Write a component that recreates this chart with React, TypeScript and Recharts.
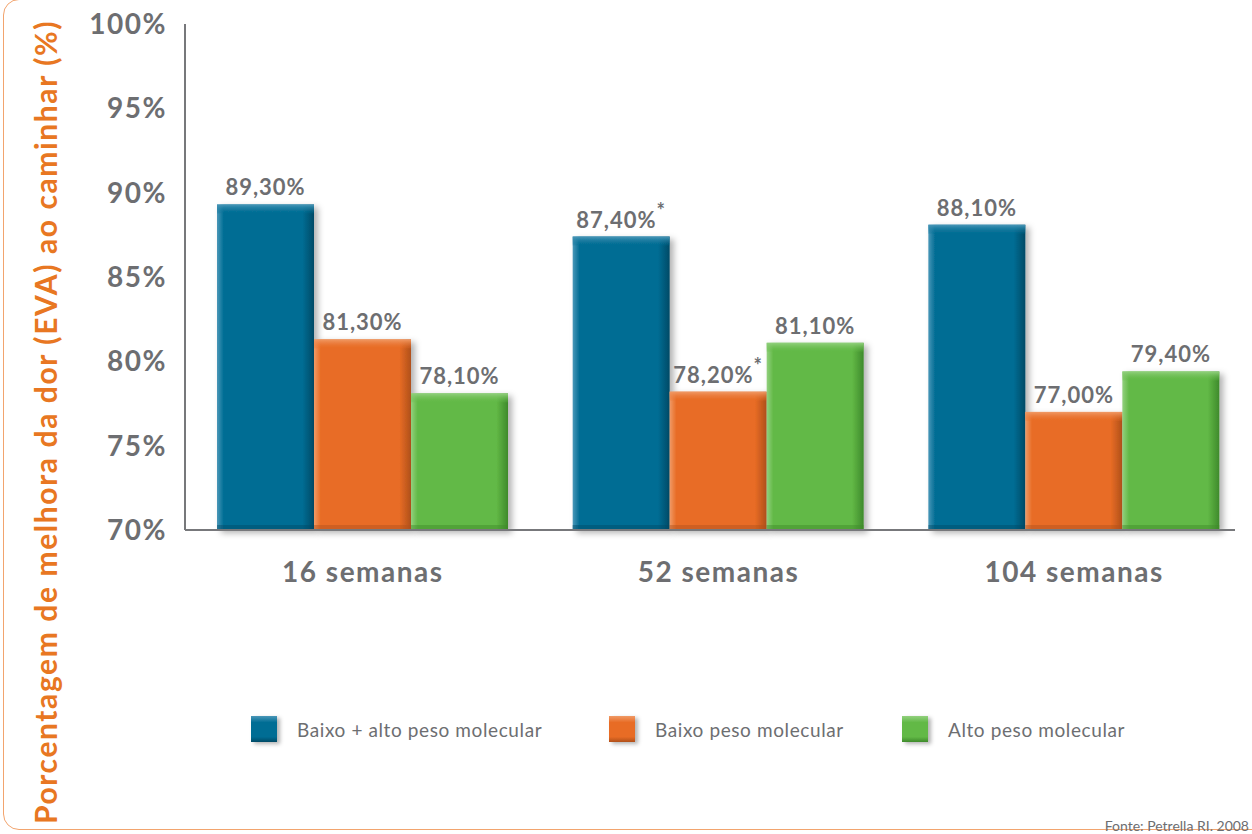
import React from 'react';
import { BarChart, Bar, XAxis, YAxis, LabelList } from 'recharts';

// values
const categories = ['16 semanas', '52 semanas', '104 semanas'];
const baixoAlto = [89.3, 87.4, 88.1];
const baixo = [81.3, 78.2, 77.0];
const alto = [78.1, 81.1, 79.4];
// asterisk marks next to some labels
const baixoAltoStar = [false, true, false];
const baixoStar = [false, true, false];
const altoStar = [false, false, false];
const yTicks = [70, 75, 80, 85, 90, 95, 100];

const seriesNames = ['Baixo + alto peso molecular', 'Baixo peso molecular', 'Alto peso molecular'];

const palette: Record<string, { base: string; light: string; dark: string }> = {
  blue: { base: '#006d94', light: '#4a97b8', dark: '#004a66' },
  orange: { base: '#e86c25', light: '#f09a66', dark: '#b0501a' },
  green: { base: '#62b946', light: '#92d07e', dark: '#3e8a2b' },
};

const data = categories.map((c, i) => ({
  name: c,
  baixoAlto: baixoAlto[i],
  baixo: baixo[i],
  alto: alto[i],
  baixoAltoStar: baixoAltoStar[i],
  baixoStar: baixoStar[i],
  altoStar: altoStar[i],
}));

const FONT = 'Lato, "Open Sans", sans-serif';
const GRAY = '#6d6e71';
const AXIS = '#77787b';

const makeShape = (key: string) => (props: any) => {
  const { x, y, width, height } = props;
  if (!width || !height) return null;
  const top = Math.min(9, height);
  return (
    <g filter="url(#barShadow)">
      <rect x={x} y={y} width={width} height={height} fill={`url(#h-${key})`} />
      <rect x={x} y={y} width={width} height={top} fill={`url(#v-${key})`} />
      <rect x={x} y={y + height - 5} width={width} height={5} fill={palette[key].dark} opacity={0.45} />
    </g>
  );
};

const makeLabel = (starKey: string) => (props: any) => {
  const { x, y, width, value, index } = props;
  const star = (data as any)[index][starKey];
  const txt = value.toFixed(2).replace('.', ',') + '%';
  return (
    <text
      x={x + width / 2}
      y={y - 9}
      textAnchor="middle"
      fill={GRAY}
      fontFamily={FONT}
      fontWeight={700}
      fontSize={22}
      letterSpacing={1}
    >
      {txt}
      {star && (
        <tspan dy={-10} fontSize={20}>
          *
        </tspan>
      )}
    </text>
  );
};

const YTitle = (props: any) => {
  const { viewBox } = props;
  const cx = viewBox.x + 45;
  const cy = 422;
  return (
    <text
      x={cx}
      y={cy}
      transform={`rotate(-90 ${cx} ${cy})`}
      textAnchor="middle"
      dominantBaseline="central"
      fill="#e87722"
      fontFamily={FONT}
      fontWeight={700}
      fontSize={30}
      letterSpacing={1.6}
    >
      Porcentagem de melhora da dor (EVA) ao caminhar (%)
    </text>
  );
};

const legendKeys = ['blue', 'orange', 'green'];
const legendLeft = [251, 609, 902];

const App: React.FC = () => {
  return (
    <div style={{ position: 'absolute', left: 0, top: 0, width: 1252, height: 834, background: '#fff', overflow: 'hidden' }}>
      <div
        style={{
          position: 'absolute',
          left: 3,
          top: -1,
          width: 1320,
          height: 831,
          border: '1.5px solid #f2a46e',
          borderRadius: 16,
          boxSizing: 'border-box',
        }}
      />
      <BarChart
        width={1252}
        height={834}
        data={data}
        margin={{ top: 24, right: 17, bottom: 274, left: 0 }}
        barCategoryGap={32}
        barGap={0}
        style={{ position: 'absolute', left: 0, top: 0 }}
      >
        <defs>
          <filter id="barShadow" x="-10%" y="-10%" width="130%" height="130%">
            <feDropShadow dx={4} dy={3} stdDeviation={3} floodColor="#000" floodOpacity={0.3} />
          </filter>
          {Object.keys(palette).map((k) => (
            <React.Fragment key={k}>
              <linearGradient id={`h-${k}`} x1="0" y1="0" x2="1" y2="0">
                <stop offset="0" stopColor={palette[k].light} />
                <stop offset="0.07" stopColor={palette[k].base} />
                <stop offset="0.88" stopColor={palette[k].base} />
                <stop offset="1" stopColor={palette[k].dark} />
              </linearGradient>
              <linearGradient id={`v-${k}`} x1="0" y1="0" x2="0" y2="1">
                <stop offset="0" stopColor={palette[k].light} stopOpacity={1} />
                <stop offset="1" stopColor={palette[k].base} stopOpacity={0.2} />
              </linearGradient>
            </React.Fragment>
          ))}
        </defs>
        <XAxis
          dataKey="name"
          axisLine={{ stroke: AXIS, strokeWidth: 2 }}
          tickLine={false}
          tickSize={0}
          tickMargin={32}
          padding={{ left: 0, right: -17 }}
          tick={{ fill: GRAY, fontFamily: FONT, fontWeight: 700, fontSize: 28, letterSpacing: 1.5 }}
        />
        <YAxis
          domain={[70, 100]}
          ticks={yTicks}
          width={185}
          axisLine={{ stroke: AXIS, strokeWidth: 2 }}
          tickLine={false}
          tickSize={0}
          tickMargin={18}
          tickFormatter={(v: number) => `${v}%`}
          tick={{ fill: GRAY, fontFamily: FONT, fontWeight: 700, fontSize: 28, letterSpacing: 1.5 }}
          label={<YTitle />}
        />
        <Bar dataKey="baixoAlto" name={seriesNames[0]} shape={makeShape('blue')} isAnimationActive={false}>
          <LabelList dataKey="baixoAlto" content={makeLabel('baixoAltoStar')} />
        </Bar>
        <Bar dataKey="baixo" name={seriesNames[1]} shape={makeShape('orange')} isAnimationActive={false}>
          <LabelList dataKey="baixo" content={makeLabel('baixoStar')} />
        </Bar>
        <Bar dataKey="alto" name={seriesNames[2]} shape={makeShape('green')} isAnimationActive={false}>
          <LabelList dataKey="alto" content={makeLabel('altoStar')} />
        </Bar>
      </BarChart>

      {/* legend */}
      {seriesNames.map((n, i) => {
        const p = palette[legendKeys[i]];
        return (
          <div
            key={n}
            style={{
              position: 'absolute',
              top: 716,
              left: legendLeft[i],
              display: 'flex',
              alignItems: 'center',
              fontFamily: FONT,
              fontSize: 19,
              letterSpacing: 0.6,
              color: GRAY,
              whiteSpace: 'nowrap',
            }}
          >
            <div
              style={{
                width: 26,
                height: 26,
                marginRight: 20,
                background: `linear-gradient(to bottom, ${p.light} 0%, ${p.base} 25%, ${p.base} 80%, ${p.dark} 100%)`,
                boxShadow: '3px 2px 4px rgba(0,0,0,0.3)',
              }}
            />
            <span>{n}</span>
          </div>
        );
      })}

      <div
        style={{
          position: 'absolute',
          right: 3,
          top: 817,
          fontFamily: FONT,
          fontSize: 14,
          color: GRAY,
        }}
      >
        Fonte: Petrella RI. 2008
      </div>
    </div>
  );
};

export default App;
